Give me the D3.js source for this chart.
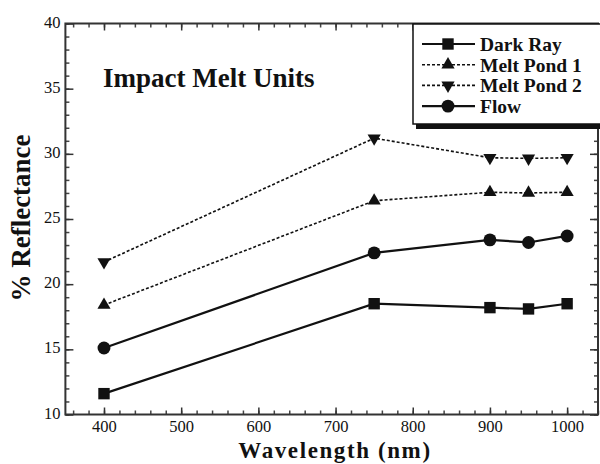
<!DOCTYPE html>
<html>
<head>
<meta charset="utf-8">
<script src="https://cdn.jsdelivr.net/npm/d3@7"></script>
<style>
  body { margin: 0; background: #fff; }
  svg { display: block; }
</style>
</head>
<body>
<div id="chart"></div>
<script>
// Data
var wavelengths = [400, 750, 900, 950, 1000];
var darkRay   = [11.6, 18.5, 18.2, 18.1, 18.5];
var meltPond1 = [18.4, 26.4, 27.05, 27.0, 27.05];
var meltPond2 = [21.7, 31.2, 29.7, 29.65, 29.7];
var flow      = [15.1, 22.4, 23.4, 23.2, 23.7];

var seriesNames = ["Dark Ray", "Melt Pond 1", "Melt Pond 2", "Flow"];

var xTicks = [400, 500, 600, 700, 800, 900, 1000];
var xMinorTicks = d3.range(360, 1041, 20);
var yTicks = [10, 15, 20, 25, 30, 35, 40];
var yMinorTicks = d3.range(10, 41, 1);

var width = 600, height = 464;
var serif = "'Liberation Serif', 'DejaVu Serif', 'Times New Roman', serif";

// Set the ranges
var x = d3.scaleLinear().domain([350, 1040]).range([65.4, 598]);
var y = d3.scaleLinear().domain([10, 40]).range([414.5, 23.5]);

var svg = d3.select("#chart").append("svg")
    .attr("width", width)
    .attr("height", height)
    .attr("font-family", serif);

var ink = "#111";

// Minor ticks on all sides
function minor(g) { g.select(".domain").remove(); g.selectAll("line").attr("stroke", "#444").attr("stroke-width", 1.5); }

svg.append("g").attr("transform", "translate(0," + y(10) + ")")
    .call(d3.axisBottom(x).tickValues(xMinorTicks).tickSize(-4).tickFormat("")).call(minor);
svg.append("g").attr("transform", "translate(0," + y(40) + ")")
    .call(d3.axisTop(x).tickValues(xMinorTicks).tickSize(-4).tickFormat("")).call(minor);
svg.append("g").attr("transform", "translate(" + x(350) + ",0)")
    .call(d3.axisLeft(y).tickValues(yMinorTicks).tickSize(-4).tickFormat("")).call(minor);
svg.append("g").attr("transform", "translate(" + x(1040) + ",0)")
    .call(d3.axisRight(y).tickValues(yMinorTicks).tickSize(-4).tickFormat("")).call(minor);

// Major ticks
function major(g) {
    g.select(".domain").remove();
    g.selectAll("line").attr("stroke", "#333").attr("stroke-width", 1.5);
    g.attr("font-family", serif).attr("font-size", 16.5);
    g.selectAll("text").attr("fill", ink);
}

svg.append("g").attr("transform", "translate(0," + y(10) + ")")
    .call(d3.axisBottom(x).tickValues(xTicks).tickSize(-7).tickPadding(6).tickFormat(d3.format("d")))
    .call(major);
svg.append("g").attr("transform", "translate(0," + y(40) + ")")
    .call(d3.axisTop(x).tickValues(xTicks).tickSize(-7).tickFormat("")).call(major);
svg.append("g").attr("transform", "translate(" + x(350) + ",0)")
    .call(d3.axisLeft(y).tickValues(yTicks).tickSize(-8).tickPadding(5).tickFormat(d3.format("d")))
    .call(major)
    .selectAll("text").attr("dy", "0.22em");
svg.append("g").attr("transform", "translate(" + x(1040) + ",0)")
    .call(d3.axisRight(y).tickValues(yTicks).tickSize(-8).tickFormat("")).call(major);

// Frame
svg.append("rect")
    .attr("x", x(350)).attr("y", y(40))
    .attr("width", x(1040) - x(350)).attr("height", y(10) - y(40))
    .attr("fill", "none").attr("stroke", "#333").attr("stroke-width", 2);

// Series
var series = [
    { name: seriesNames[0], values: darkRay,   dash: null,  symbol: d3.symbolSquare,   rot: 0,   size: 130 },
    { name: seriesNames[1], values: meltPond1, dash: "3,2", symbol: d3.symbolTriangle, rot: 0,   size: 75 },
    { name: seriesNames[2], values: meltPond2, dash: "3,2", symbol: d3.symbolTriangle, rot: 180, size: 75 },
    { name: seriesNames[3], values: flow,      dash: null,  symbol: d3.symbolCircle,   rot: 0,   size: 130 }
];

var line = d3.line()
    .x(function(d) { return x(d[0]); })
    .y(function(d) { return y(d[1]); });

series.forEach(function(s) {
    var pts = wavelengths.map(function(w, i) { return [w, s.values[i]]; });
    svg.append("path")
        .attr("d", line(pts))
        .attr("fill", "none")
        .attr("stroke", ink)
        .attr("stroke-width", s.dash ? 1.6 : 2.2)
        .attr("stroke-dasharray", s.dash);
    svg.selectAll(null).data(pts).enter().append("path")
        .attr("d", d3.symbol().type(s.symbol).size(s.size))
        .attr("transform", function(d) {
            return "translate(" + x(d[0]) + "," + y(d[1]) + ") rotate(" + s.rot + ")";
        })
        .attr("fill", ink);
});

// Legend
var lg = svg.append("g");
lg.append("rect").attr("x", 416).attr("y", 27).attr("width", 200).attr("height", 102).attr("fill", ink);
lg.append("rect").attr("x", 413).attr("y", 24).attr("width", 200).attr("height", 100)
    .attr("fill", "#fff").attr("stroke", ink).attr("stroke-width", 1.5);

series.forEach(function(s, i) {
    var cy = 44 + i * 20.7;
    lg.append("line")
        .attr("x1", 422).attr("x2", 475).attr("y1", cy).attr("y2", cy)
        .attr("stroke", ink)
        .attr("stroke-width", s.dash ? 1.6 : 2.2)
        .attr("stroke-dasharray", s.dash);
    lg.append("path")
        .attr("d", d3.symbol().type(s.symbol).size(s.size))
        .attr("transform", "translate(448," + cy + ") rotate(" + s.rot + ")")
        .attr("fill", ink);
    lg.append("text")
        .attr("x", 480).attr("y", cy + 7)
        .attr("fill", ink)
        .attr("font-size", 19.5).attr("font-weight", "bold")
        .text(s.name);
});

// Title and axis labels
svg.append("text")
    .attr("x", 103).attr("y", 87)
    .attr("fill", ink)
    .attr("font-size", 27).attr("font-weight", "bold")
    .text("Impact Melt Units");

svg.append("text")
    .attr("x", 335).attr("y", 458)
    .attr("text-anchor", "middle")
    .attr("fill", ink)
    .attr("font-size", 23).attr("font-weight", "bold")
    .attr("letter-spacing", 1.6)
    .text("Wavelength (nm)");

svg.append("text")
    .attr("transform", "translate(30,218) rotate(-90)")
    .attr("text-anchor", "middle")
    .attr("fill", ink)
    .attr("font-size", 27).attr("font-weight", "bold")
    .text("% Reflectance");
</script>
</body>
</html>
